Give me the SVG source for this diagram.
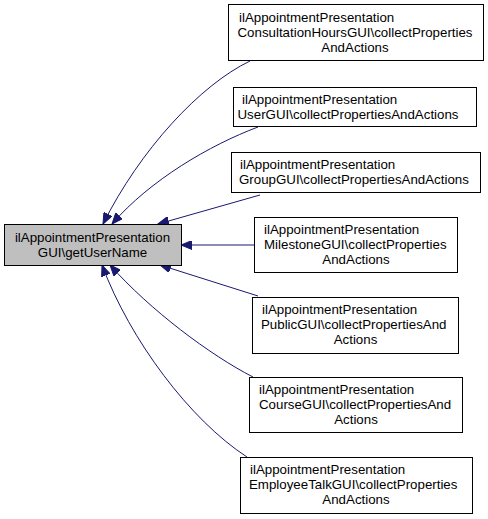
<svg xmlns="http://www.w3.org/2000/svg" width="488" height="519" viewBox="0 0 488 519">
<style>
.box{fill:#ffffff;stroke:#000000;stroke-width:1}
.main{fill:#bfbfbf;stroke:#000000;stroke-width:1}
text{font-family:"Liberation Sans",Arial,Helvetica,sans-serif;font-size:13.3px;fill:#000000}
.c{text-anchor:middle}
.e{fill:none;stroke:#191970;stroke-width:1}
</style>
<defs>
<marker id="ah" markerUnits="userSpaceOnUse" markerWidth="12" markerHeight="9" refX="11" refY="4.5" orient="auto">
<path d="M0,0 L11,4.5 L0,9 z" fill="#191970" stroke="#191970" stroke-width="1"/>
</marker>
</defs>
<rect width="488" height="519" fill="#ffffff"/>
<g id="connectors">
<path class="e" marker-end="url(#ah)" d="M250,61 C200,85 140,150 103,224"/>
<path class="e" marker-end="url(#ah)" d="M258,127 C210,145 150,180 112,224"/>
<path class="e" marker-end="url(#ah)" d="M260,195 L158,224"/>
<path class="e" marker-end="url(#ah)" d="M254,245 L181,245"/>
<path class="e" marker-end="url(#ah)" d="M258,296 L160,265"/>
<path class="e" marker-end="url(#ah)" d="M253,377 C210,355 150,310 110,265"/>
<path class="e" marker-end="url(#ah)" d="M247,457 C190,420 130,340 102,265"/>
</g>
<g id="main">
<rect class="main" x="4.5" y="224.5" width="177" height="41"/>
<text class="c" x="92.5" y="241.5">ilAppointmentPresentation</text>
<text class="c" x="92.5" y="256.5">GUI\getUserName</text>
</g>
<g id="n1">
<rect class="box" x="228.5" y="4.5" width="255" height="56"/>
<text x="239" y="22">ilAppointmentPresentation</text>
<text x="237.5" y="37">ConsultationHoursGUI\collectProperties</text>
<text class="c" x="355" y="52">AndActions</text>
</g>
<g id="n2">
<rect class="box" x="233.5" y="87.5" width="243" height="39"/>
<text x="242" y="104">ilAppointmentPresentation</text>
<text x="237.5" y="119">UserGUI\collectPropertiesAndActions</text>
</g>
<g id="n3">
<rect class="box" x="231.5" y="152.5" width="249" height="40"/>
<text x="240" y="168.5">ilAppointmentPresentation</text>
<text x="239" y="183.5">GroupGUI\collectPropertiesAndActions</text>
</g>
<g id="n4">
<rect class="box" x="254.5" y="217.5" width="203" height="55"/>
<text x="264" y="233.5">ilAppointmentPresentation</text>
<text x="264" y="248.5">MilestoneGUI\collectProperties</text>
<text class="c" x="356" y="263.5">AndActions</text>
</g>
<g id="n5">
<rect class="box" x="252.5" y="297.5" width="206" height="56"/>
<text x="262" y="314">ilAppointmentPresentation</text>
<text x="261" y="329">PublicGUI\collectPropertiesAnd</text>
<text class="c" x="355.5" y="344">Actions</text>
</g>
<g id="n6">
<rect class="box" x="249.5" y="377.5" width="213" height="55"/>
<text x="259" y="394">ilAppointmentPresentation</text>
<text x="259" y="409">CourseGUI\collectPropertiesAnd</text>
<text class="c" x="356" y="424">Actions</text>
</g>
<g id="n7">
<rect class="box" x="240.5" y="457.5" width="232" height="56"/>
<text x="250" y="474">ilAppointmentPresentation</text>
<text x="249" y="489">EmployeeTalkGUI\collectProperties</text>
<text class="c" x="356" y="504">AndActions</text>
</g>
</svg>
